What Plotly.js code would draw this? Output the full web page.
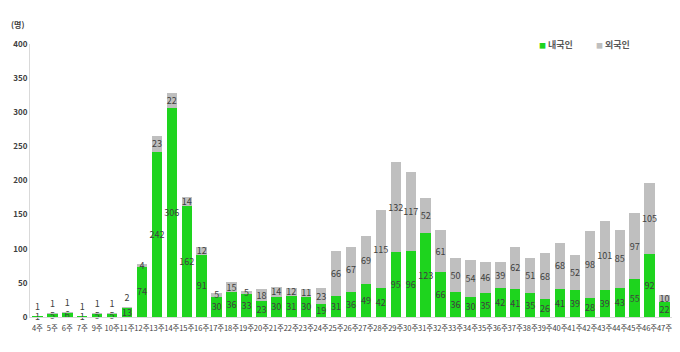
<!DOCTYPE html>
<html>
<head>
<meta charset="utf-8">
<script src="https://cdn.plot.ly/plotly-3.0.1.min.js"></script>
<style>html,body{margin:0;padding:0;background:#fff;}#chart{width:680px;height:352px;}</style>
</head>
<body>
<div id="chart"></div>
<script>
const weeks = ["4주","5주","6주","7주","9주","10주","11주","12주","13주","14주","15주","16주","17주","18주","19주","20주","21주","22주","23주","24주","25주","26주","27주","28주","29주","30주","31주","32주","33주","34주","35주","36주","37주","38주","39주","40주","41주","42주","43주","44주","45주","46주","47주"];
const domestic = [1,5,6,1,5,5,13,74,242,306,162,91,30,36,33,23,30,31,30,19,31,36,49,42,95,96,123,66,36,30,35,42,41,35,26,41,39,28,39,43,55,92,22];
const foreign = [1,1,1,1,1,1,2,4,23,22,14,12,5,15,5,18,14,12,11,23,66,67,69,115,132,117,52,61,50,54,46,39,62,51,68,68,52,98,101,85,97,105,10];
const seriesNames = ["내국인","외국인"];
const seriesColors = ['#1ed41e', '#bfbfbf'];
const yTicks = [0,50,100,150,200,250,300,350,400];

const font = "'Noto Sans CJK KR', 'Noto Sans', sans-serif";
const txt = {family: font, size: 9, color: '#404040'};
const yTickFont = {family: font, size: 8, color: '#404040', weight: 'bold'};
const xTickFont = {family: font, size: 7.5, color: '#404040'};

const traces = [
  {type:'bar', name: seriesNames[0], x: weeks, y: domestic, marker:{color: seriesColors[0]},
   text: domestic.map(String), textposition:'inside', insidetextanchor:'middle', constraintext:'none',
   textangle: 0, insidetextfont: txt, textfont: txt, cliponaxis: false},
  {type:'bar', name: seriesNames[1], x: weeks, y: foreign, marker:{color: seriesColors[1]},
   text: foreign.map(String), textposition: foreign.map(v => v <= 2 ? 'outside' : 'inside'),
   insidetextanchor:'middle', constraintext:'none', textangle: 0,
   insidetextfont: txt, outsidetextfont: txt, textfont: txt, cliponaxis: false}
];

const legendX = [0.789, 0.879];
const legendAnn = seriesNames.map((n, i) => ({
  xref:'paper', yref:'paper', x: legendX[i], y: 1.0, xanchor:'left', yanchor:'middle', showarrow:false,
  text: '<span style="color:' + seriesColors[i] + ';font-size:7px">■</span> ' + n,
  font: {family: font, size: 9, color: '#595959', weight: 'bold'}
}));

const layout = {
  width: 680, height: 352,
  margin: {l: 30, r: 8, t: 44, b: 35},
  barmode: 'stack', bargap: 0.3,
  paper_bgcolor: '#fff', plot_bgcolor: '#fff',
  font: {family: font, size: 8, color: '#404040'},
  showlegend: false,
  xaxis: {type: 'category', tickangle: 0, tickfont: xTickFont, ticklabelstandoff: 4,
          showline: true, linecolor: '#d9d9d9', linewidth: 1, ticks: '', showgrid: false,
          automargin: false},
  yaxis: {range: [0, 400], tickvals: yTicks, showgrid: false, zeroline: false,
          showline: true, linecolor: '#d9d9d9', linewidth: 1, ticks: '',
          tickfont: yTickFont, automargin: false},
  annotations: [{xref:'paper', yref:'paper', x: -0.019, y: 1.044, xanchor:'center', yanchor:'bottom',
                 text: '(명)', showarrow:false, font:{family: font, size: 8, color:'#404040', weight:'bold'}}]
                 .concat(legendAnn)
};

Plotly.newPlot('chart', traces, layout, {displayModeBar: false, staticPlot: true});
</script>
</body>
</html>
